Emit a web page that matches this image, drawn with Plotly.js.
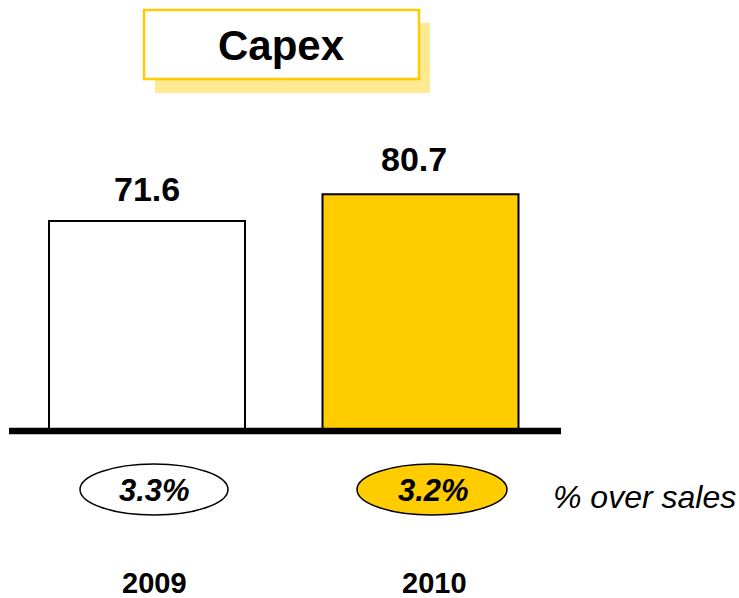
<!DOCTYPE html>
<html>
<head>
<meta charset="utf-8">
<script src="https://cdn.plot.ly/plotly-3.0.1.min.js"></script>
<style>html,body{margin:0;padding:0;background:#fff;}#chart{width:739px;height:598px;}</style>
</head>
<body>
<div id="chart"></div>
<script>
// Data
var years = ['2009', '2010'];
var capex = [71.6, 80.7];
var capexLabels = ['71.6', '80.7'];
var pctOverSales = ['3.3%', '3.2%'];
var chartTitle = 'Capex';
var pctCaption = '% over sales';

// Styles
var YELLOW = '#FFCC00';
var SHADOW = '#FFE993';
var barColors = ['#FFFFFF', YELLOW];
var FONT = 'Liberation Sans, Arial, sans-serif';
var W = 739, H = 598;
function px(x) { return x / W; }
function py(y) { return 1 - y / H; }

var trace = {
  type: 'bar',
  x: years,
  y: capex,
  width: 0.7166,
  marker: { color: barColors, line: { color: '#000000', width: 2 } },
  hoverinfo: 'none'
};

var annotations = [];
var labelShift = [32, 35];
var labelX = [0, -7];
var pctShiftX = [7, 12.5];
var yearShiftX = [7, 13.5];
years.forEach(function (yr, i) {
  // category axis: annotations use the category index
  annotations.push({
    x: i, y: capex[i], xref: 'x', yref: 'y',
    text: '<b>' + capexLabels[i] + '</b>', showarrow: false,
    yanchor: 'middle', xanchor: 'center', yshift: labelShift[i], xshift: labelX[i],
    font: { family: FONT, size: 34, color: '#000' }
  });
  annotations.push({
    x: i, y: 0, xref: 'x', yref: 'y',
    text: '<b><i>' + pctOverSales[i] + '</i></b>', showarrow: false,
    yanchor: 'middle', xanchor: 'center', yshift: -59, xshift: pctShiftX[i],
    font: { family: FONT, size: 31, color: '#000' }
  });
  annotations.push({
    x: i, y: 0, xref: 'x', yref: 'y',
    text: '<b>' + yr + '</b>', showarrow: false,
    yanchor: 'middle', xanchor: 'center', yshift: -152, xshift: yearShiftX[i],
    font: { family: FONT, size: 29, color: '#000' }
  });
});
annotations.push({
  x: px(551), y: py(497.5), xref: 'paper', yref: 'paper',
  text: '<i>' + pctCaption + '</i>', showarrow: false,
  xanchor: 'left', yanchor: 'middle',
  font: { family: FONT, size: 32, color: '#000' }
});
annotations.push({
  x: px(281), y: py(45), xref: 'paper', yref: 'paper',
  text: '<b>' + chartTitle + '</b>', showarrow: false,
  xanchor: 'center', yanchor: 'middle',
  font: { family: FONT, size: 42, color: '#000' }
});

var shapes = [
  { type: 'rect', xref: 'paper', yref: 'paper', x0: px(155), x1: px(430), y0: py(23), y1: py(93),
    fillcolor: SHADOW, line: { width: 0 }, layer: 'below' },
  { type: 'rect', xref: 'paper', yref: 'paper', x0: px(144), x1: px(419), y0: py(10), y1: py(79),
    fillcolor: '#FFFFFF', line: { color: YELLOW, width: 2.5 }, layer: 'below' },
  { type: 'line', xref: 'paper', yref: 'y', x0: px(9), x1: px(561), y0: 0, y1: 0,
    line: { color: '#000', width: 6.5 } },
  { type: 'circle', xref: 'paper', yref: 'paper', x0: px(80), x1: px(228), y0: py(464), y1: py(515),
    fillcolor: '#FFFFFF', line: { color: '#000', width: 1.5 }, layer: 'below' },
  { type: 'circle', xref: 'paper', yref: 'paper', x0: px(357), x1: px(507), y0: py(464), y1: py(515),
    fillcolor: YELLOW, line: { color: '#000', width: 1.5 }, layer: 'below' }
];

var layout = {
  width: W, height: H,
  margin: { l: 0, r: 0, t: 0, b: 0 },
  paper_bgcolor: '#fff', plot_bgcolor: 'rgba(0,0,0,0)',
  showlegend: false,
  xaxis: { type: 'category', range: [-0.5375, 2.1645], visible: false, fixedrange: true },
  yaxis: { range: [-56.94, 146.95], visible: false, fixedrange: true },
  shapes: shapes,
  annotations: annotations
};

Plotly.newPlot('chart', [trace], layout, { staticPlot: true, displayModeBar: false });
</script>
</body>
</html>
